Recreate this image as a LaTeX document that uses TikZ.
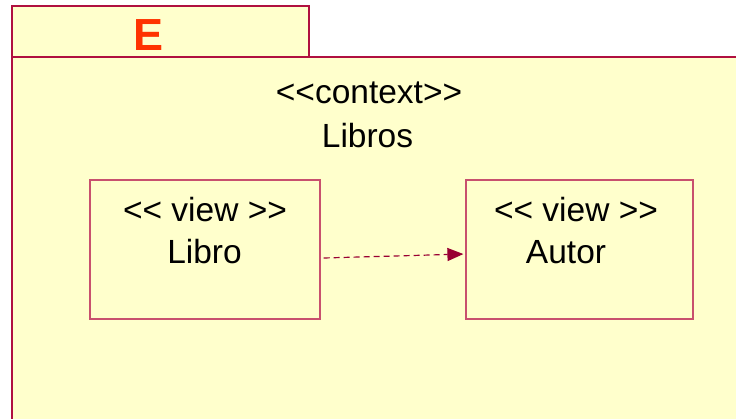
\documentclass[tikz,border=0pt]{standalone}
\usepackage{fontspec}
\setmainfont{Liberation Sans}
\newfontfamily\tabfont{Liberation Sans}
\usetikzlibrary{arrows.meta}

\definecolor{pkgfill}{HTML}{FFFFCC}
\definecolor{pkgline}{HTML}{B01040}
\definecolor{boxline}{HTML}{C8506E}
\definecolor{deparrow}{HTML}{990033}
\definecolor{tabtext}{HTML}{FF3300}

\newcommand{\guilopen}{<\kern0pt<}
\newcommand{\guilclose}{>\kern0pt>}

\tikzset{
  pkgshape/.style={draw=pkgline, line width=1.5pt, fill=pkgfill},
  viewbox/.style={draw=boxline, line width=1.2pt, fill=pkgfill,
    minimum width=230pt, minimum height=139pt, inner sep=0pt},
  umltext/.style={font=\fontsize{33.5}{36}\selectfont, anchor=base, inner sep=0pt},
  dependency/.style={draw=deparrow, line width=1.2pt, dash pattern=on 6pt off 4pt,
    -{Triangle[length=16pt,width=13pt]}},
}

\begin{document}
\begin{tikzpicture}[x=1pt,y=-1pt]
        \useasboundingbox (0,0) rectangle (736,418);
        \clip (0,0) rectangle (736,418);

        % package body and tab
        \draw[pkgshape] (12,57) rectangle (760,440);
        \draw[pkgshape] (12,6) rectangle (309,57);
        \node[font=\tabfont\bfseries\fontsize{45}{48}\selectfont, text=tabtext,
              anchor=base, inner sep=0pt] (tab) at (149,50.5) {E};

        % context name
        \node[umltext] (ctxstereo) at (369,103) {\guilopen context\guilclose};
        \node[umltext] (ctxname) at (367.5,147) {Libros};

        % views
        \node[viewbox] (libro) at (205,249.5) {};
        \node[viewbox, minimum width=227pt] (autor) at (579.5,249.5) {};

        \node[umltext] (librostereo) at (205,221) {\guilopen{} view \guilclose};
        \node[umltext] (libroname) at (204.5,263.5) {Libro};
        \node[umltext] (autorstereo) at (576,221) {\guilopen{} view \guilclose};
        \node[umltext] (autorname) at (566,263.5) {Autor};

        % dependency
        \draw[dependency, shorten >=2pt] ([xshift=3pt,yshift=-8.5pt]libro.east)
            -- ([yshift=-4.5pt]autor.west);
\end{tikzpicture}
\end{document}
